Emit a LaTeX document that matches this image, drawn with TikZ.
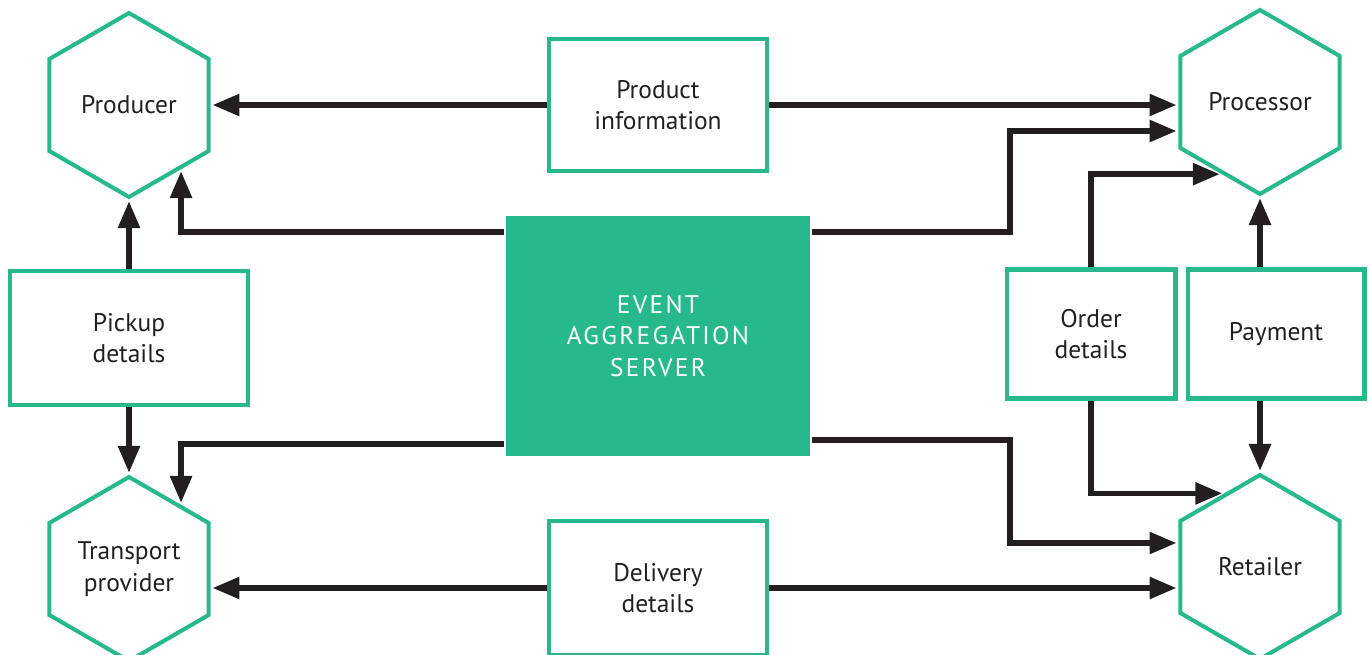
\documentclass[tikz,border=0pt]{standalone}
\usepackage{fontspec}
\setmainfont{PT Sans}
\newfontfamily\spacedfont[LetterSpace = 9]{PT Sans}
\usetikzlibrary{shapes.geometric,arrows.meta}
\definecolor{hexgreen}{HTML}{27B98C}
\definecolor{ink}{HTML}{231F20}

\begin{document}
\begin{tikzpicture}[x = 0.02cm, y = -0.02cm, line width = 2.3pt,
                        hexa/.style = {regular polygon, regular polygon sides = 6, shape border rotate = 30,
                                       draw = hexgreen, minimum size = 3.68cm, inner sep = 0pt,
                                       align = center, text = ink, font = \fontsize{14.5}{18}\selectfont},
                        infobox/.style = {rectangle, draw = hexgreen, inner sep = 0pt, align = center,
                                          text = ink, font = \fontsize{14.5}{18}\selectfont},
                        server/.style = {rectangle, fill = hexgreen, inner sep = 0pt, align = center,
                                         text = white, font = \spacedfont\fontsize{14.5}{18}\selectfont,
                                         minimum width = 6.08cm, minimum height = 4.8cm},
                        flow/.style = {draw = ink, line width = 3.2pt, shorten > = 1pt,
                                       -{Triangle[length = 0.54cm, width = 0.42cm]}}]
      \useasboundingbox (0, 0) rectangle (1370, 655);
      % actors
      \node [hexa] (prod) at (129, 105){Producer};
      \node [hexa] (proc) at (1260, 102){Processor};
      \node [hexa] (trn) at (129, 569){Transport\\provider};
      \node [hexa] (ret) at (1260, 567){Retailer};
      % events
      \node [server] (srv) at (658, 336){EVENT\\AGGREGATION\\SERVER};
      \node [infobox, minimum width = 4.36cm, minimum height = 2.64cm] (pinf) at (658, 105){Product\\information};
      \node [infobox, minimum width = 4.36cm, minimum height = 2.68cm] (dlv) at (658, 588){Delivery\\details};
      \node [infobox, minimum width = 4.76cm, minimum height = 2.68cm] (pick) at (129, 338){Pickup\\details};
      \node [infobox, minimum width = 3.38cm, minimum height = 2.58cm] (ord) at (1091, 334){Order\\details};
      \node [infobox, minimum width = 3.54cm, minimum height = 2.58cm] (pay) at (1276, 334){Payment};
      % flows
      \draw [flow] (pinf.west) -- (pinf.west -| prod.east);
      \draw [flow] (pinf.east) -- (pinf.east -| proc.west);
      \draw [flow] (dlv.west) -- (dlv.west -| trn.east);
      \draw [flow] (dlv.east) -- (dlv.east -| ret.west);
      \draw [flow] (pick.north) -- (prod.south);
      \draw [flow] (pick.south) -- (trn.north);
      \draw [flow] (proc.south |- pay.north) -- (proc.south);
      \draw [flow] (ret.north |- pay.south) -- (ret.north);
      \draw [flow] (ord.north) |- (proc.-118);
      \draw [flow] (ord.south) |- (ret.116);
      \draw [flow] ([yshift = -0.36cm]srv.north west) -| (prod.-51);
      \draw [flow] ([yshift = 0.28cm]srv.south west) -| (trn.51);
      \draw [flow] ([yshift = -0.36cm]srv.north east) -- ++(198, 0) |- ([yshift = -0.58cm]proc.west);
      \draw [flow] ([yshift = 0.36cm]srv.south east) -- ++(198, 0) |- ([yshift = 0.48cm]ret.west);
    \end{tikzpicture}
\end{document}
